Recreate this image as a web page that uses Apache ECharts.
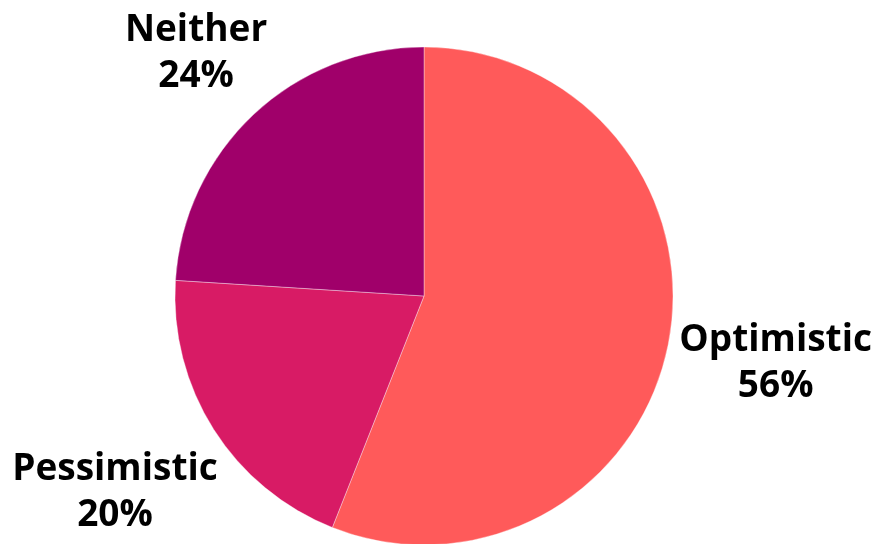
<!DOCTYPE html>
<html>
<head>
<meta charset="utf-8">
<script src="https://cdn.jsdelivr.net/npm/echarts@6/dist/echarts.min.js"></script>
<style>
  html, body { margin: 0; padding: 0; background: #fff; }
  #chart { width: 878px; height: 544px; }
</style>
</head>
<body>
<div id="chart"></div>
<script>
// Share of respondents by outlook
const categories = ['Optimistic', 'Pessimistic', 'Neither'];
const shares = [56, 20, 24];
const sliceColors = ['#FF5A5A', '#D81B65', '#A0006A'];

// Distance of each label's centre from the pie centre (px)
const labelRadius = [355, 363, 330];

const center = [424, 296];
const pieRadius = 249;

const data = categories.map((name, i) => ({
  name: name,
  value: shares[i],
  itemStyle: { color: sliceColors[i] }
}));

const labelStyle = {
  position: 'inside',
  formatter: p => p.name + '\n' + p.value + '%',
  fontFamily: 'Open Sans',
  fontWeight: 'bold',
  fontSize: 37,
  lineHeight: 46,
  color: '#000',
  align: 'center'
};

// One invisible ring per label so each label sits at its own distance
const labelRings = categories.map((cat, k) => ({
  type: 'pie',
  center: center,
  radius: [labelRadius[k] - 10, labelRadius[k] + 10],
  startAngle: 90,
  clockwise: true,
  data: categories.map((name, i) => ({
    name: name,
    value: shares[i],
    label: { show: i === k }
  })),
  itemStyle: { color: 'rgba(0,0,0,0)' },
  label: labelStyle,
  labelLine: { show: false },
  emphasis: { disabled: true },
  silent: true
}));

const chart = echarts.init(document.getElementById('chart'), null, { renderer: 'canvas' });
chart.setOption({
  animation: false,
  backgroundColor: '#ffffff',
  series: [
    {
      type: 'pie',
      center: center,
      radius: [0, pieRadius],
      startAngle: 90,
      clockwise: true,
      data: data,
      itemStyle: { borderColor: 'rgba(255,255,255,0.6)', borderWidth: 0.6 },
      label: { show: false },
      labelLine: { show: false },
      emphasis: { disabled: true },
      silent: true
    }
  ].concat(labelRings)
});
</script>
</body>
</html>
